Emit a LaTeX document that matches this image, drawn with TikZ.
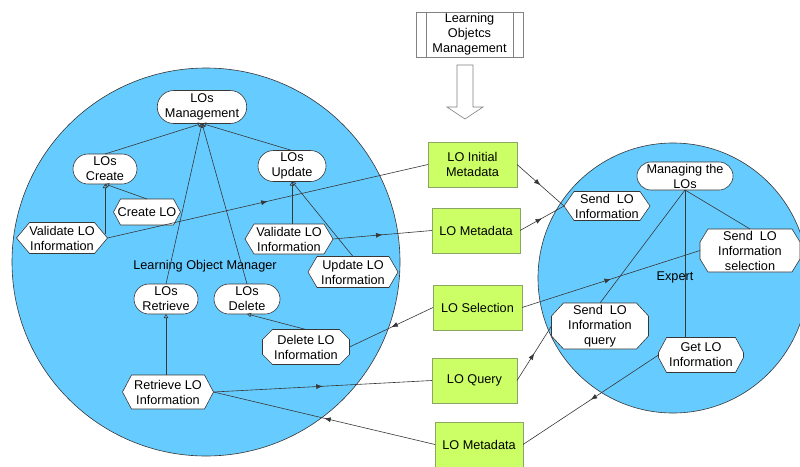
\documentclass[tikz,border=0pt]{standalone}
\usepackage{fontspec}
\setmainfont{Liberation Sans}
\usetikzlibrary{arrows.meta,shapes.misc,decorations.markings,calc}

\makeatletter
% Box with cut corners: "octa cx" and "octa cy" give the size of each cut.
% With octa cy equal to half the height the box becomes a hexagon.
\pgfkeys{/pgf/octa cx/.initial=8pt,/pgf/octa cy/.initial=8pt}
\pgfdeclareshape{octa}{%
  \inheritsavedanchors[from=rectangle]%
  \inheritanchorborder[from=rectangle]%
  \inheritanchor[from=rectangle]{center}%
  \inheritanchor[from=rectangle]{text}%
  \inheritanchor[from=rectangle]{base}%
  \inheritanchor[from=rectangle]{mid}%
  \inheritanchor[from=rectangle]{north}%
  \inheritanchor[from=rectangle]{south}%
  \inheritanchor[from=rectangle]{east}%
  \inheritanchor[from=rectangle]{west}%
  \inheritanchor[from=rectangle]{north east}%
  \inheritanchor[from=rectangle]{north west}%
  \inheritanchor[from=rectangle]{south east}%
  \inheritanchor[from=rectangle]{south west}%
  \backgroundpath{%
    \pgfmathsetlengthmacro\octa@cx{\pgfkeysvalueof{/pgf/octa cx}}%
    \pgfmathsetlengthmacro\octa@cy{\pgfkeysvalueof{/pgf/octa cy}}%
    \southwest\edef\octa@l{\the\pgf@x}\edef\octa@b{\the\pgf@y}%
    \northeast\edef\octa@r{\the\pgf@x}\edef\octa@t{\the\pgf@y}%
    \pgfpathmoveto{\pgfqpoint{\dimexpr\octa@l+\octa@cx\relax}{\octa@t}}%
    \pgfpathlineto{\pgfqpoint{\dimexpr\octa@r-\octa@cx\relax}{\octa@t}}%
    \pgfpathlineto{\pgfqpoint{\octa@r}{\dimexpr\octa@t-\octa@cy\relax}}%
    \pgfpathlineto{\pgfqpoint{\octa@r}{\dimexpr\octa@b+\octa@cy\relax}}%
    \pgfpathlineto{\pgfqpoint{\dimexpr\octa@r-\octa@cx\relax}{\octa@b}}%
    \pgfpathlineto{\pgfqpoint{\dimexpr\octa@l+\octa@cx\relax}{\octa@b}}%
    \pgfpathlineto{\pgfqpoint{\octa@l}{\dimexpr\octa@b+\octa@cy\relax}}%
    \pgfpathlineto{\pgfqpoint{\octa@l}{\dimexpr\octa@t-\octa@cy\relax}}%
    \pgfpathclose
  }%
}
\makeatother

\definecolor{zoneblue}{RGB}{102,204,255}
\definecolor{boxgreen}{RGB}{204,255,102}
\definecolor{boxedge}{RGB}{140,165,100}
\definecolor{linegray}{RGB}{55,55,55}
\definecolor{framegray}{RGB}{130,130,130}

\tikzset{
  txt/.style={font=\fontsize{12.7pt}{15pt}\selectfont, align=center,
    inner sep=1pt, outer sep=0pt, text=black},
  zone/.style={circle, draw=linegray, line width=0.6pt, fill=zoneblue,
    inner sep=0pt, outer sep=0pt},
  pill/.style={txt, rounded rectangle, draw=linegray, fill=white, line width=0.6pt},
  cut/.style 2 args={txt, shape=octa, draw=linegray, fill=white, line width=0.6pt,
    /pgf/octa cx=#1, /pgf/octa cy=#2},
  greenbox/.style={txt, rectangle, draw=boxedge, fill=boxgreen, line width=0.6pt,
    minimum height=45pt},
  link/.style={draw=linegray, line width=0.6pt},
  gen/.style={link, -{Triangle[open, length=4pt, width=4.5pt]}},
  flow/.style={link, postaction={decorate},
    decoration={markings, mark=at position 0.5 with {\arrow{Latex[length=6.5pt,width=5pt]}}}},
}

\begin{document}
\begin{tikzpicture}[x=1pt, y=-1pt]
\clip (0,0) rectangle (800,466);
\fill[white] (0,0) rectangle (800,466);

% the two zones
\node[zone, minimum size=388pt] (lzone) at (206,262) {};
\node[zone, minimum size=270pt] (rzone) at (673,278) {};
\node[txt] (lomlabel) at (205,266) {Learning Object Manager};
\node[txt] (explabel) at (675,277) {Expert};

% process box and hollow arrow on top
\node[txt, rectangle, draw=framegray, fill=white, line width=0.6pt,
      minimum width=107pt, minimum height=45pt] (top) at (469.5,34.5)
      {Learning\\Objetcs\\Management};
\draw[framegray, line width=0.6pt]
  ([xshift=10pt]top.north west) -- ([xshift=10pt]top.south west)
  ([xshift=-10pt]top.north east) -- ([xshift=-10pt]top.south east);
\draw[framegray, fill=white, line width=0.6pt]
  (457,65) -- (473,65) -- (473,107) -- (483,107) -- (465,119)
  -- (447,107) -- (457,107) -- cycle;

% Learning Object Manager
\node[pill, minimum width=84pt, minimum height=33pt] (mgmt) at (202,107) {LOs\\Management};
\node[pill, minimum width=66pt, minimum height=30pt] (create) at (105,169) {LOs\\Create};
\node[pill, minimum width=70pt, minimum height=31pt] (update) at (292,166) {LOs\\Update};
\node[cut={7pt}{13pt}, minimum width=67pt, minimum height=26pt] (createlo) at (147,212) {Create LO};
\node[cut={13pt}{15.5pt}, minimum width=91pt, minimum height=31pt] (valleft) at (62,238) {Validate LO\\Information};
\node[cut={9pt}{15pt}, minimum width=88pt, minimum height=30pt] (valmid) at (289,239) {Validate LO\\Information};
\node[cut={9pt}{15.5pt}, minimum width=90pt, minimum height=31pt] (updlo) at (353,272) {Update LO\\Information};
\node[pill, minimum width=66pt, minimum height=30pt] (retr) at (166,299) {LOs\\Retrieve};
\node[pill, minimum width=68pt, minimum height=30pt] (del) at (247,299) {LOs\\Delete};
\node[cut={10pt}{10pt}, minimum width=87pt, minimum height=35pt] (dello) at (306,347) {Delete LO\\Information};
\node[cut={9pt}{17pt}, minimum width=91pt, minimum height=34pt] (retrlo) at (168,392) {Retrieve LO\\Information};

% Expert
\node[pill, minimum width=98pt, minimum height=28pt] (manage) at (685,176) {Managing the\\LOs};
\node[cut={10pt}{14.5pt}, minimum width=86pt, minimum height=29pt] (senda) at (607,206) {Send\ \ LO\\Information};
\node[cut={8pt}{13pt}, minimum width=100pt, minimum height=43pt] (sendsel) at (750,250.5) {Send\ \ LO\\Information\\selection};
\node[cut={12pt}{13pt}, minimum width=97pt, minimum height=46pt] (sendq) at (600,326) {Send\ \ LO\\Information\\query};
\node[cut={8pt}{15pt}, minimum width=85pt, minimum height=35pt] (getlo) at (701,355) {Get LO\\Information};

% exchanged data
\node[greenbox, minimum width=89pt] (ginit) at (472.5,164.5) {LO Initial\\Metadata};
\node[greenbox, minimum width=88pt] (gmeta) at (476,230.5) {LO Metadata};
\node[greenbox, minimum width=89pt] (gsel) at (477.5,307.5) {LO Selection};
\node[greenbox, minimum width=85pt] (gquery) at (474.5,380.5) {LO Query};
\node[greenbox, minimum width=88pt] (gmeta2) at (479,444.5) {LO Metadata};

% specialisation links inside the manager
\draw[gen] (create.north) -- (mgmt.south);
\draw[gen] (update.north) -- (mgmt.south);
\draw[gen] (retr.north) -- (mgmt.south);
\draw[gen] (del.north) -- (mgmt.south);
\draw[gen] (createlo.north) -- (create.south);
\coordinate (vlhook) at ($(valleft.east)!0.23!(valleft.north east)$);
\draw[gen] (vlhook -| create.south) -- (create.south);
\draw[gen] (update.south |- valmid.north) -- (update.south);
\draw[gen] (updlo.north) -- (update.south);
\draw[gen] (retr.south |- retrlo.north) -- (retr.south);
\draw[gen] (dello.north) -- (del.south);

% links inside the expert
\draw[link] (manage.south) -- (sendq.north);
\draw[link] (manage.south) -- (manage.south |- getlo.north);
\draw[link] (manage.south) -- (sendsel.north);

% data flows
\draw[flow] (valleft.east) -- (ginit.west);
\draw[flow] (valmid.east) -- (gmeta.west);
\draw[flow] (gsel.west) -- (dello.east);
\draw[flow] (retrlo.east) -- (gquery.west);
\draw[flow] (gmeta2.west) -- (retrlo.east);
\draw[flow] (ginit.east) -- (senda.west);
\draw[flow] (gmeta.east) -- (senda.west);
\draw[flow] (gsel.east) -- (sendsel.west);
\draw[flow] (gquery.east) -- (sendq.west);
\draw[flow] (getlo.west) -- (gmeta2.east);
\end{tikzpicture}
\end{document}
